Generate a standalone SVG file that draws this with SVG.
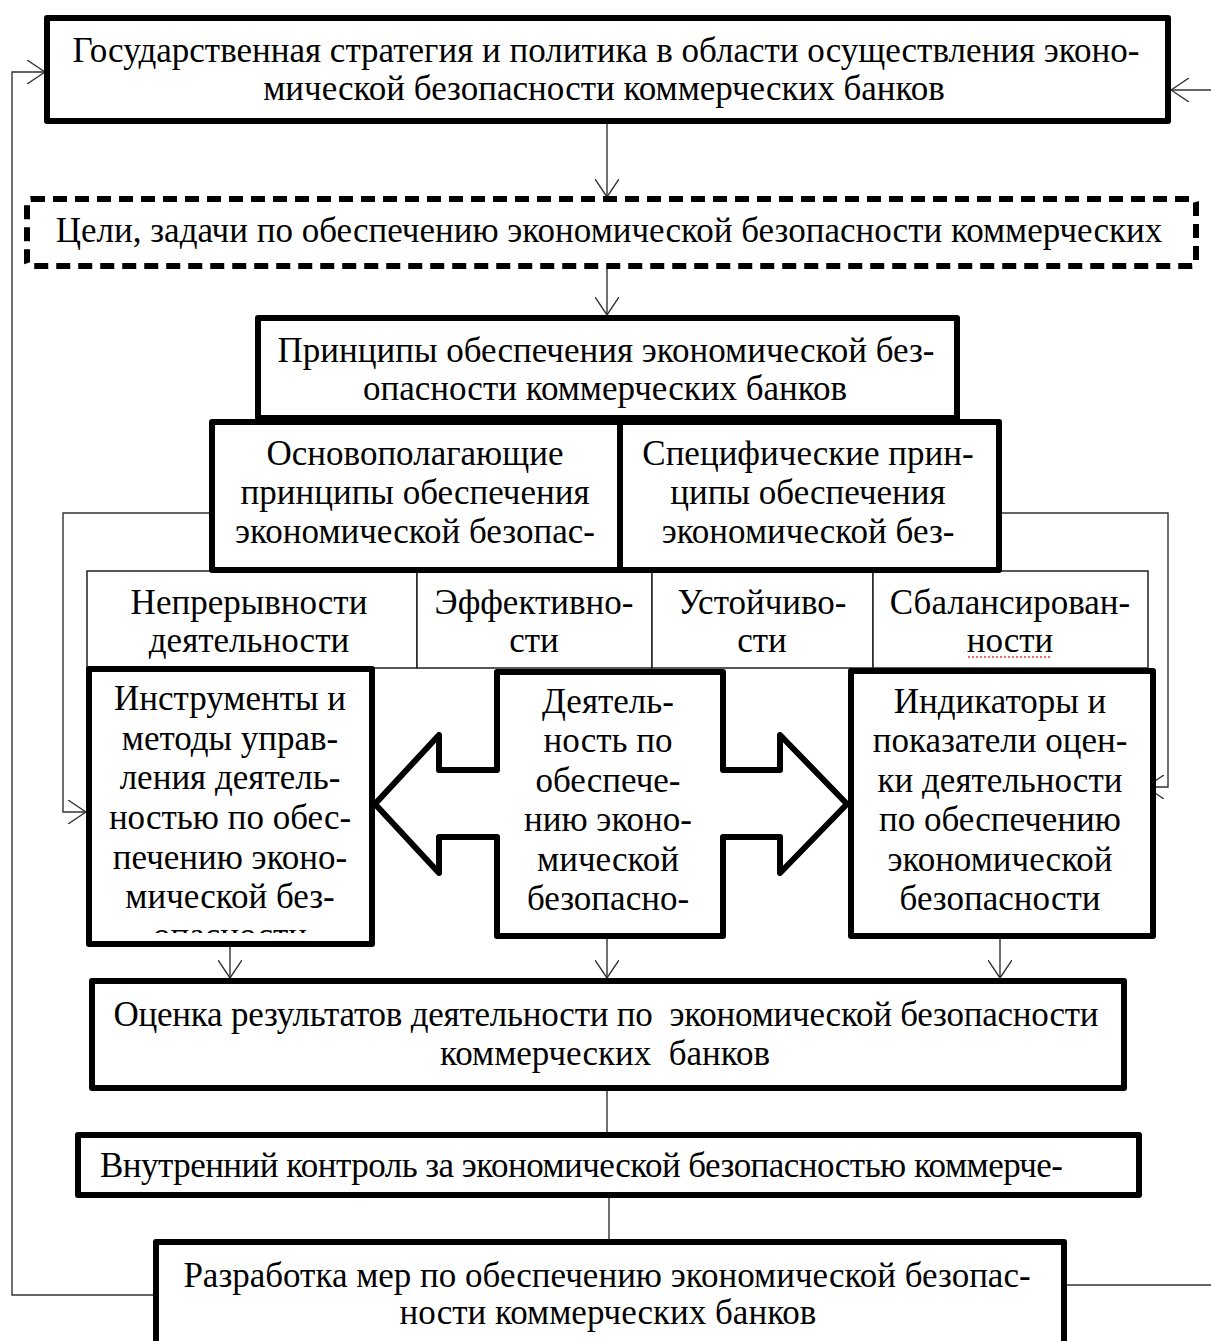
<svg xmlns="http://www.w3.org/2000/svg" width="1211" height="1341" viewBox="0 0 1211 1341">
<style>
text{font-family:"Liberation Serif","Times New Roman",serif;font-size:35px;fill:#000}
.c{text-anchor:middle}
.thick{fill:#fff;stroke:#000;stroke-width:6;stroke-linejoin:round}
.thin{fill:#fff;stroke:#222;stroke-width:1.5}
.dash{fill:#fff;stroke:#000;stroke-width:6;stroke-dasharray:14 8}
.ln{fill:none;stroke:#333;stroke-width:1.4}
</style>
<defs>
<marker id="ah" viewBox="0 0 18 24" refX="18" refY="12" markerWidth="18" markerHeight="24" markerUnits="userSpaceOnUse" orient="auto">
<path d="M0,0 L18,12 L0,24" fill="none" stroke="#333" stroke-width="1.4"/>
</marker>
<clipPath id="clipInst"><rect x="92" y="929" width="277" height="4"/></clipPath>
</defs>

<g id="connectors">
<path class="ln" d="M155,1295 H12 V72 H45" marker-end="url(#ah)"/>
<path class="ln" d="M1065,1285 H1214 V90 H1171" marker-end="url(#ah)"/>
<path class="ln" d="M607,122 V197" marker-end="url(#ah)"/>
<path class="ln" d="M607,268 V315" marker-end="url(#ah)"/>
<path class="ln" d="M211,513 H63 V812 H86" marker-end="url(#ah)"/>
<path class="ln" d="M1000,513 H1168 V787 H1146" marker-end="url(#ah)"/>
<path class="ln" d="M230,945 V978" marker-end="url(#ah)"/>
<path class="ln" d="M607,936 V978" marker-end="url(#ah)"/>
<path class="ln" d="M1000,936 V978" marker-end="url(#ah)"/>
<path class="ln" d="M607,1089 V1133"/>
<path class="ln" d="M609,1196 V1240"/>
</g>

<g id="n-state">
<rect class="thick" x="47" y="18" width="1121" height="103"/>
<text class="c" x="606" y="62">Государственная стратегия и политика в области осуществления эконо-</text>
<text class="c" x="604" y="100">мической безопасности коммерческих банков</text>
</g>

<g id="n-goals">
<rect class="dash" x="27" y="199" width="1169" height="67" rx="4"/>
<text class="c" x="609" y="242">Цели, задачи по обеспечению экономической безопасности коммерческих</text>
</g>

<g id="n-cells">
<rect class="thin" x="87" y="571" width="330" height="97"/>
<rect class="thin" x="417" y="571" width="235" height="97"/>
<rect class="thin" x="652" y="571" width="221" height="97"/>
<rect class="thin" x="873" y="571" width="275" height="97"/>
<text class="c" x="249" y="614">Непрерывности</text>
<text class="c" x="249" y="652">деятельности</text>
<text class="c" x="534" y="614">Эффективно-</text>
<text class="c" x="534" y="652">сти</text>
<text class="c" x="762" y="614">Устойчиво-</text>
<text class="c" x="762" y="652">сти</text>
<text class="c" x="1010" y="614">Сбалансирован-</text>
<text class="c" x="1010" y="652">ности</text>
<line x1="968" y1="657" x2="1050" y2="657" stroke="#e33" stroke-width="1.5" stroke-dasharray="2 2"/>
</g>

<g id="n-principles">
<rect class="thick" x="258" y="318" width="699" height="100"/>
<text class="c" x="606" y="362">Принципы обеспечения экономической без-</text>
<text class="c" x="605" y="400">опасности коммерческих банков</text>
</g>

<g id="n-basic">
<rect class="thick" x="212" y="422" width="408" height="148"/>
<text class="c" x="415" y="465">Основополагающие</text>
<text class="c" x="415" y="504">принципы обеспечения</text>
<text class="c" x="415" y="543">экономической безопас-</text>
</g>

<g id="n-specific">
<rect class="thick" x="620" y="422" width="379" height="148"/>
<text class="c" x="808" y="465">Специфические прин-</text>
<text class="c" x="808" y="504">ципы обеспечения</text>
<text class="c" x="808" y="543">экономической без-</text>
</g>

<g id="n-instruments">
<rect class="thick" x="89" y="669" width="283" height="275"/>
<text class="c" x="230" y="710">Инструменты и</text>
<text class="c" x="230" y="750">методы управ-</text>
<text class="c" x="230" y="789">ления деятель-</text>
<text class="c" x="230" y="829">ностью по обес-</text>
<text class="c" x="230" y="869">печению эконо-</text>
<text class="c" x="230" y="908">мической без-</text>
<text class="c" x="230" y="947" clip-path="url(#clipInst)">опасности</text>
</g>

<g id="n-activity">
<polygon class="thick" points="497,672 723,672 723,770 780,770 780,735 847,804 780,873 780,837 723,837 723,936 497,936 497,837 439,837 439,873 375,804 439,735 439,770 497,770"/>
<text class="c" x="608" y="713">Деятель-</text>
<text class="c" x="608" y="752">ность по</text>
<text class="c" x="608" y="792">обеспече-</text>
<text class="c" x="608" y="831">нию эконо-</text>
<text class="c" x="608" y="871">мической</text>
<text class="c" x="608" y="910">безопасно-</text>
</g>

<g id="n-indicators">
<rect class="thick" x="851" y="671" width="302" height="265"/>
<text class="c" x="1000" y="713">Индикаторы и</text>
<text class="c" x="1000" y="752">показатели оцен-</text>
<text class="c" x="1000" y="792">ки деятельности</text>
<text class="c" x="1000" y="831">по обеспечению</text>
<text class="c" x="1000" y="871">экономической</text>
<text class="c" x="1000" y="910">безопасности</text>
</g>

<g id="n-evaluation">
<rect class="thick" x="92" y="981" width="1032" height="107"/>
<text class="c" x="606" y="1026" xml:space="preserve" textLength="985" lengthAdjust="spacing">Оценка результатов деятельности по  экономической безопасности</text>
<text class="c" x="605" y="1065" xml:space="preserve">коммерческих  банков</text>
</g>

<g id="n-control">
<rect class="thick" x="78" y="1135" width="1061" height="60"/>
<text x="100" y="1177" textLength="963" lengthAdjust="spacing">Внутренний контроль за экономической безопасностью коммерче-</text>
</g>

<g id="n-measures">
<rect class="thick" x="156" y="1242" width="908" height="110"/>
<text class="c" x="607" y="1287">Разработка мер по обеспечению экономической безопас-</text>
<text class="c" x="608" y="1324">ности коммерческих банков</text>
</g>
</svg>
